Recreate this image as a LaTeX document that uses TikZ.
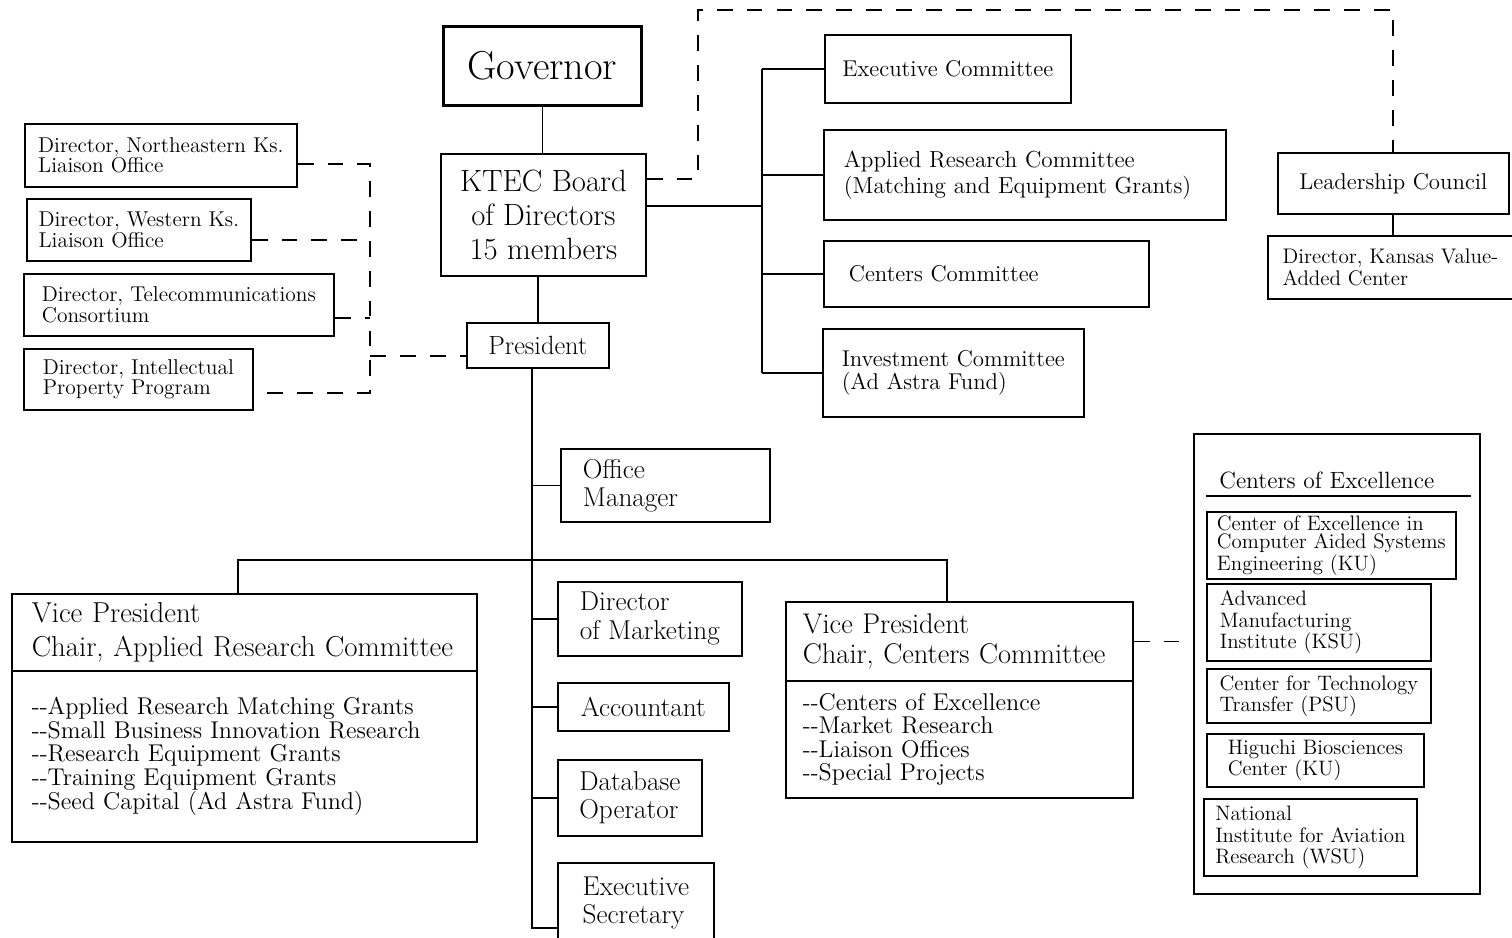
\documentclass[tikz,border=0pt]{standalone}
\usepackage{tikz}
\newcommand{\fsz}[2]{\fontsize{#1}{#2}\selectfont}
\tikzset{
  box/.style={draw, line width=1pt, anchor=north west, align=left, inner sep=2pt},
  link/.style={line width=1pt},
  dlink/.style={line width=1pt, dash pattern=on 9pt off 8pt},
}

\begin{document}
\begin{tikzpicture}[x=0.02cm, y=-0.02cm]
 \useasboundingbox (0,0) rectangle (1512,937);
 %Nodes
	\node[box, line width=1.6pt, minimum width=3.96cm, minimum height=1.58cm, align=center, font={\fsz{23}{26}}] (gov) at (442,25) {Governor};
	\node[box, minimum width=4.1cm, minimum height=2.44cm, align=center, font={\fsz{17.5}{19.4}}] (board) at (440,153) {KTEC Board\\of Directors\\15 members};
	\node[box, minimum width=2.84cm, minimum height=0.9cm, align=center, font={\fsz{15}{17}}] (pres) at (466,322) {President};
	% committees
	\node[box, minimum width=4.92cm, minimum height=1.36cm, font={\fsz{13}{15}}] (exec) at (824,34) {Executive Committee};
	\node[box, minimum width=8.04cm, minimum height=1.8cm, text width=7.24cm, font={\fsz{13.2}{14.7}}] (arc) at (823,129) {Applied Research Committee\\(Matching and Equipment Grants)};
	\node[box, minimum width=6.5cm, minimum height=1.32cm, text width=5.5cm, font={\fsz{13}{15}}] (cc) at (823,240) {Centers Committee};
	\node[box, minimum width=5.22cm, minimum height=1.76cm, font={\fsz{13}{13.6}}] (inv) at (822,328) {Investment Committee\\(Ad Astra Fund)};
	\node[box, minimum width=4.62cm, minimum height=1.22cm, font={\fsz{13}{15}}] (lead) at (1277,152) {Leadership Council};
	\node[box, minimum width=4.9cm, minimum height=1.26cm, font={\fsz{12}{13}}] (kvac) at (1267,235) {Director, Kansas Value-\\Added Center};
	% liaison directors
	\node[box, minimum width=5.44cm, minimum height=1.26cm, font={\fsz{12.2}{11.5}}] (ne) at (24,123) {Director, Northeastern Ks.\\Liaison Office};
	\node[box, minimum width=4.48cm, minimum height=1.24cm, font={\fsz{12.2}{11.5}}] (west) at (26,198) {Director, Western Ks.\\Liaison Office};
	\node[box, minimum width=6.2cm, minimum height=1.24cm, font={\fsz{12.2}{11.5}}] (tele) at (23,273) {Director, Telecommunications\\Consortium};
	\node[box, minimum width=4.58cm, minimum height=1.22cm, font={\fsz{12.2}{11.5}}] (ip) at (23,348) {Director, Intellectual\\Property Program};
	% staff
	\node[box, minimum width=4.18cm, minimum height=1.46cm, text width=3.3cm, font={\fsz{15.5}{16}}] (office) at (560,448) {Office\\Manager};
	\node[box, minimum width=3.68cm, minimum height=1.48cm, font={\fsz{15.5}{16.4}}] (mkt) at (557,581) {Director\\of Marketing};
	\node[box, minimum width=3.42cm, minimum height=0.96cm, font={\fsz{15.5}{16}}] (acct) at (557,682) {Accountant};
	\node[box, minimum width=2.88cm, minimum height=1.52cm, font={\fsz{15.5}{15.9}}] (db) at (557,759) {Database\\Operator};
	\node[box, minimum width=3.12cm, minimum height=1.6cm, font={\fsz{15.5}{15.9}}] (secy) at (557,862) {Executive\\Secretary};
	% vice presidents
	\node[box, minimum width=9.3cm, minimum height=1.54cm, text width=8.5cm, font={\fsz{16.4}{19.3}}] (vpar) at (11,593) {Vice President\\Chair, Applied Research Committee};
	\node[box, minimum width=9.3cm, minimum height=3.42cm, text width=8.5cm, font={\fsz{13.8}{13.6}}] (vparlist) at (11,670) {-{}-Applied Research Matching Grants\\-{}-Small Business Innovation Research\\-{}-Research Equipment Grants\\-{}-Training Equipment Grants\\-{}-Seed Capital (Ad Astra Fund)};
	\node[box, minimum width=6.94cm, minimum height=1.58cm, text width=6.26cm, font={\fsz{16.2}{17}}] (vpcc) at (785,601) {Vice President\\Chair, Centers Committee};
	\node[box, minimum width=6.94cm, minimum height=2.34cm, text width=6.26cm, font={\fsz{13.8}{13.3}}] (vpcclist) at (785,680) {-{}-Centers of Excellence\\-{}-Market Research\\-{}-Liaison Offices\\-{}-Special Projects};
	% centers of excellence
	\node[box, minimum width=5.72cm, minimum height=9.2cm] (coe) at (1193,433) {};
	\node[anchor=west, inner sep=0pt, font={\fsz{13.4}{15}}] (coetitle) at (1219,480) {Centers of Excellence};
	\node[box, minimum width=4.98cm, minimum height=1.3cm, font={\fsz{11.9}{10.6}}] (case) at (1206,511) {Center of Excellence in\\Computer Aided Systems\\Engineering (KU)};
	\node[box, minimum width=4.48cm, minimum height=1.54cm, text width=3.96cm, font={\fsz{11.9}{12.2}}] (ami) at (1206,583) {Advanced\\Manufacturing\\Institute (KSU)};
	\node[box, minimum width=4.48cm, minimum height=1.08cm, font={\fsz{11.9}{12}}] (ctt) at (1206,668) {Center for Technology\\Transfer (PSU)};
	\node[box, minimum width=4.34cm, minimum height=1.06cm, font={\fsz{11.9}{10.8}}] (hig) at (1206,733) {Higuchi Biosciences\\Center (KU)};
	\node[box, minimum width=4.26cm, minimum height=1.54cm, font={\fsz{11.9}{12.2}}] (niar) at (1203,798) {National\\Institute for Aviation\\Research (WSU)};
	\draw[link] ([xshift=0.26cm,yshift=-1.26cm]coe.north west) -- ([xshift=-0.2cm,yshift=-1.26cm]coe.north east);
	% Lines
	\coordinate (spine) at (532,0);
	\coordinate (rbus) at (762,0);
	\coordinate (lbus) at (370,0);
	\coordinate (vpbar) at (532,560);
	\coordinate (secyin) at (557,928);
	\coordinate (dtop) at (698,10);
	\draw[link] (gov.south) -- (gov.south |- board.north);
	\draw[link] (pres.north |- board.south) -- (pres.north);
	\draw[link] (spine |- pres.south) |- (secyin);
	\foreach \n in {office,mkt,acct,db}
	  \draw[link] (spine |- \n.west) -- (\n.west);
	\draw[link] ([xshift=-0.13cm]vpar.north) |- (vpbar) -| ([xshift=-0.25cm]vpcc.north);
	\coordinate (boardout) at ([yshift=0.18cm]board.east);
	\draw[link] (boardout) -- (boardout -| rbus);
	\draw[link] (rbus |- exec.west) -- (rbus |- inv.west);
	\foreach \n in {exec,arc,cc,inv}
	  \draw[link] (rbus |- \n.west) -- (\n.west);
	\draw[link] (lead.south) -- (lead.south |- kvac.north);
	% Dashed lines
	\draw[dlink] ([yshift=0.72cm]board.east) -| (dtop) -| (lead.north);
	\coordinate (neout) at ([yshift=-0.17cm]ne.east);
	\coordinate (westout) at ([yshift=-0.2cm]west.east);
	\coordinate (teleout) at ([yshift=-0.26cm]tele.east);
	\coordinate (ipout) at ([yshift=-0.27cm]ip.east);
	\coordinate (presin) at ([yshift=-0.21cm]pres.west);
	\draw[dlink] (neout) -| (lbus |- ipout) -- (ipout);
	\draw[dlink] (westout) -- (lbus |- westout);
	\draw[dlink] (teleout) -- (lbus |- teleout);
	\draw[dlink] (lbus |- presin) -- (presin);
	\draw[dlink] (vpcc.east) -- (vpcc.east -| coe.west);
\end{tikzpicture}
\end{document}
